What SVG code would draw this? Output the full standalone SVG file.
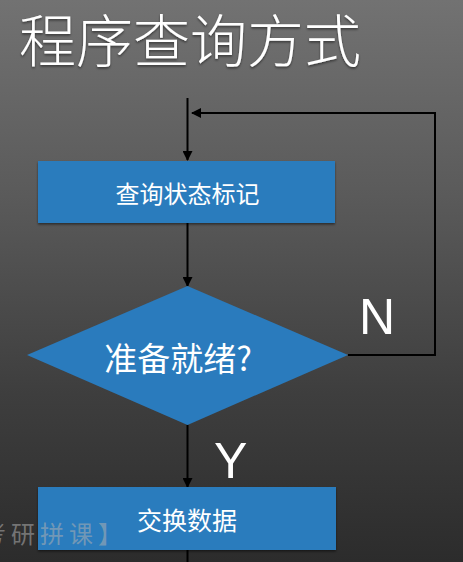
<svg xmlns="http://www.w3.org/2000/svg" width="463" height="562" viewBox="0 0 463 562">
  <defs>
    <linearGradient id="bg" x1="0" y1="0" x2="0" y2="1">
      <stop offset="0" stop-color="#727272"/>
      <stop offset="0.35" stop-color="#5a5a5a"/>
      <stop offset="0.7" stop-color="#3e3e3e"/>
      <stop offset="1" stop-color="#2c2c2c"/>
    </linearGradient>
    <marker id="arrow" markerWidth="10" markerHeight="10" refX="9" refY="5" orient="auto" markerUnits="userSpaceOnUse">
      <path d="M0,0 L10,5 L0,10 z" fill="#000"/>
    </marker>
    <filter id="shadow" x="-10%" y="-10%" width="120%" height="130%">
      <feDropShadow dx="0" dy="1.5" stdDeviation="1" flood-color="#000" flood-opacity="0.5"/>
    </filter>
  </defs>
  <style>
    .node { fill: #2a7bbd; }
    .label { fill: #ffffff; font-family: "Noto Sans CJK SC", "Noto Sans", sans-serif; text-anchor: middle; dominant-baseline: central; }
    .edge { stroke: #000; stroke-width: 2; fill: none; }
    .yn { fill: #ffffff; font-family: "Liberation Sans", "DejaVu Sans", sans-serif; font-size: 50px; }
  </style>
  <rect x="0" y="0" width="463" height="562" fill="url(#bg)"/>

  <text x="19" y="62" fill="#ffffff" font-family="Noto Sans CJK SC, sans-serif" font-size="57" font-weight="300" filter="url(#shadow)">程序查询方式</text>

  <g id="connectors">
    <line class="edge" x1="187.5" y1="98" x2="187.5" y2="160" marker-end="url(#arrow)"/>
    <line class="edge" x1="187.5" y1="223" x2="187.5" y2="286" marker-end="url(#arrow)"/>
    <line class="edge" x1="187.5" y1="425" x2="187.5" y2="487" marker-end="url(#arrow)"/>
    <line class="edge" x1="187.5" y1="550" x2="187.5" y2="562"/>
    <polyline class="edge" points="348,355 435,355 435,113 192,113" marker-end="url(#arrow)"/>
  </g>

  <g id="node-check">
    <rect class="node" x="38" y="161" width="297" height="62" filter="url(#shadow)"/>
    <text class="label" x="187.5" y="192" font-size="24">查询状态标记</text>
  </g>

  <g id="node-ready">
    <polygon class="node" points="187.5,286 348,355 187.5,425 27,355"/>
    <text class="label" x="178" y="357" font-size="33">准备就绪?</text>
  </g>

  <g id="node-exchange">
    <rect class="node" x="38" y="487" width="298" height="63" filter="url(#shadow)"/>
    <text class="label" x="187" y="519" font-size="25">交换数据</text>
  </g>

  <text class="yn" x="359" y="334">N</text>
  <text class="yn" x="214" y="478">Y</text>

  <text x="-18" y="543" fill="#b0b0b0" fill-opacity="0.55" font-family="Noto Sans CJK SC, sans-serif" font-size="24" letter-spacing="5">考研拼课】</text>
</svg>
